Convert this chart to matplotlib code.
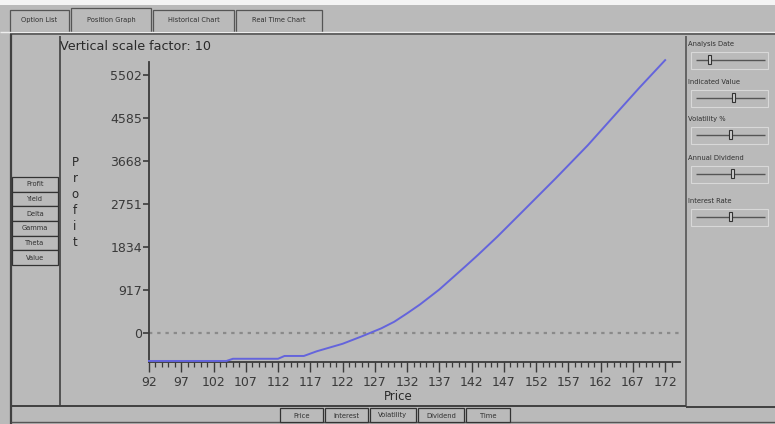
import numpy as np
import matplotlib
matplotlib.use("Agg")
import matplotlib.pyplot as plt
from matplotlib.patches import Rectangle

# Data
price = [92, 104, 105, 112, 113, 116, 118, 120, 122, 125, 128, 130, 132, 134,
         137, 141, 143, 146, 150, 155, 160, 165, 168, 172]
profit = [-597, -597, -550, -550, -490, -490, -390, -310, -230, -70, 100, 240,
          420, 610, 930, 1420, 1670, 2060, 2610, 3300, 4010, 4780, 5240, 5830]
y_ticks = [0, 917, 1834, 2751, 3668, 4585, 5502]
x_ticks = list(range(92, 173, 5))

tabs = ["Option List", "Position Graph", "Historical Chart", "Real Time Chart"]
left_buttons = ["Profit", "Yield", "Delta", "Gamma", "Theta", "Value"]
bottom_buttons = ["Price", "Interest", "Volatility", "Dividend", "Time"]
sliders = ["Analysis Date", "Indicated Value", "Volatility %", "Annual Dividend", "Interest Rate"]
slider_pos = [0.2, 0.55, 0.5, 0.53, 0.5]

BG = "#bababa"
DARK = "#404040"
W, H = 775, 424

fig = plt.figure(figsize=(W / 100, H / 100), dpi=100, facecolor=BG)

# pixel-space overlay for the window chrome
gui = fig.add_axes([0, 0, 1, 1])
gui.set_xlim(0, W)
gui.set_ylim(H, 0)
gui.axis("off")
gui.set_facecolor(BG)


def box(x0, y0, x1, y1, edge=DARK, face=BG, lw=1.0, z=2):
    gui.add_patch(Rectangle((x0, y0), x1 - x0, y1 - y0, facecolor=face,
                            edgecolor=edge, lw=lw, zorder=z))


def hline(y, x0, x1, c=DARK, lw=1.2):
    gui.plot([x0, x1], [y, y], color=c, lw=lw, solid_capstyle="butt")


def vline(x, y0, y1, c=DARK, lw=1.2):
    gui.plot([x, x], [y0, y1], color=c, lw=lw, solid_capstyle="butt")


# white strip at top
gui.add_patch(Rectangle((0, 0), W, 5, facecolor="#f4f4f4", edgecolor="none"))

# tabs
tab_x = [(10, 69), (71, 151), (153, 234), (236, 322)]
for (x0, x1), t in zip(tab_x, tabs):
    sel = t == "Position Graph"
    box(x0, 8 if sel else 10, x1, 32, edge="#555555", lw=0.9)
    gui.text((x0 + x1) / 2, 20, t, fontsize=4.8, color="#303030",
             ha="center", va="center")
hline(32, 0, W, c="#eeeeee", lw=1.0)
hline(34, 10, W, c="#555555", lw=1.2)

# main frame
vline(11, 34, H, lw=1.6)
vline(60, 36, 406, lw=1.2)
vline(686, 36, 407, c="#555555", lw=1.2)
hline(406, 11, 686, lw=1.4)
hline(407, 686, W, lw=1.4)
hline(422, 11, W, c="#555555", lw=1.0)

# left buttons
by = 177
for b in left_buttons:
    box(12, by, 58, by + 14.5, edge="#333333", lw=0.9)
    gui.text(35, by + 7.3, b, fontsize=4.8, color="#303030",
             ha="center", va="center")
    by += 14.7

# right sliders
label_y = [44, 82, 119, 158, 201]
for lab, ly, pos in zip(sliders, label_y, slider_pos):
    gui.text(688, ly, lab, fontsize=4.9, color="#303030", ha="left", va="center")
    box(691, ly + 8, 768, ly + 25, edge="#d8d8d8", lw=0.8)
    hline(ly + 16, 696, 765, c="#555555", lw=1.0)
    tx = 696 + pos * (765 - 696)
    gui.add_patch(Rectangle((tx - 1.5, ly + 11), 3, 9, facecolor="#cfcfcf",
                            edgecolor="#333333", lw=0.8, zorder=3))

# bottom buttons
bx = [(280, 323), (325, 368), (370, 416), (418, 464), (466, 510)]
for (x0, x1), b in zip(bx, bottom_buttons):
    box(x0, 408, x1, 422, edge="#333333", lw=0.9)
    gui.text((x0 + x1) / 2, 415.5, b, fontsize=4.9, color="#303030",
             ha="center", va="center")

# labels around the plot
gui.text(60, 47, "Vertical scale factor: 10", fontsize=9.2, color="#2a2a2a",
         ha="left", va="center")
for i, ch in enumerate("Profit"):
    gui.text(75, 163 + i * 16, ch, fontsize=8.5, color="#2a2a2a",
             ha="center", va="center")
gui.text(398, 396, "Price", fontsize=8.5, color="#2a2a2a", ha="center", va="center")

# the graph itself
ax = fig.add_axes([149 / W, (H - 362) / H, (680 - 149) / W, (362 - 62) / H])
ax.patch.set_visible(False)
ax.set_xlim(92, 174.3)
ax.set_ylim(-619, 5790)
for s in ["top", "right"]:
    ax.spines[s].set_visible(False)
for s in ["left", "bottom"]:
    ax.spines[s].set_color("#3a3a3a")
    ax.spines[s].set_linewidth(1.3)

ax.axhline(0, color="#8a8a8a", lw=1.6, ls=(0, (1.5, 2.2)), zorder=1)
ax.plot(price, profit, color="#6464dc", lw=1.4, zorder=3, clip_on=False)

ax.set_yticks(y_ticks)
ax.set_yticklabels([str(v) for v in y_ticks])
ax.set_xticks(x_ticks)
ax.set_xticks(np.arange(92, 174), minor=True)
ax.tick_params(axis="y", length=4, width=1.2, color="#3a3a3a",
               labelsize=9, labelcolor="#3a3a3a", pad=1)
ax.tick_params(axis="x", which="major", length=7, width=1.0, color="#3a3a3a",
               labelsize=9, labelcolor="#3a3a3a", pad=3)
ax.tick_params(axis="x", which="minor", length=3.5, width=0.9, color="#3a3a3a")

fig.savefig("out.png", dpi=100, facecolor=BG)
